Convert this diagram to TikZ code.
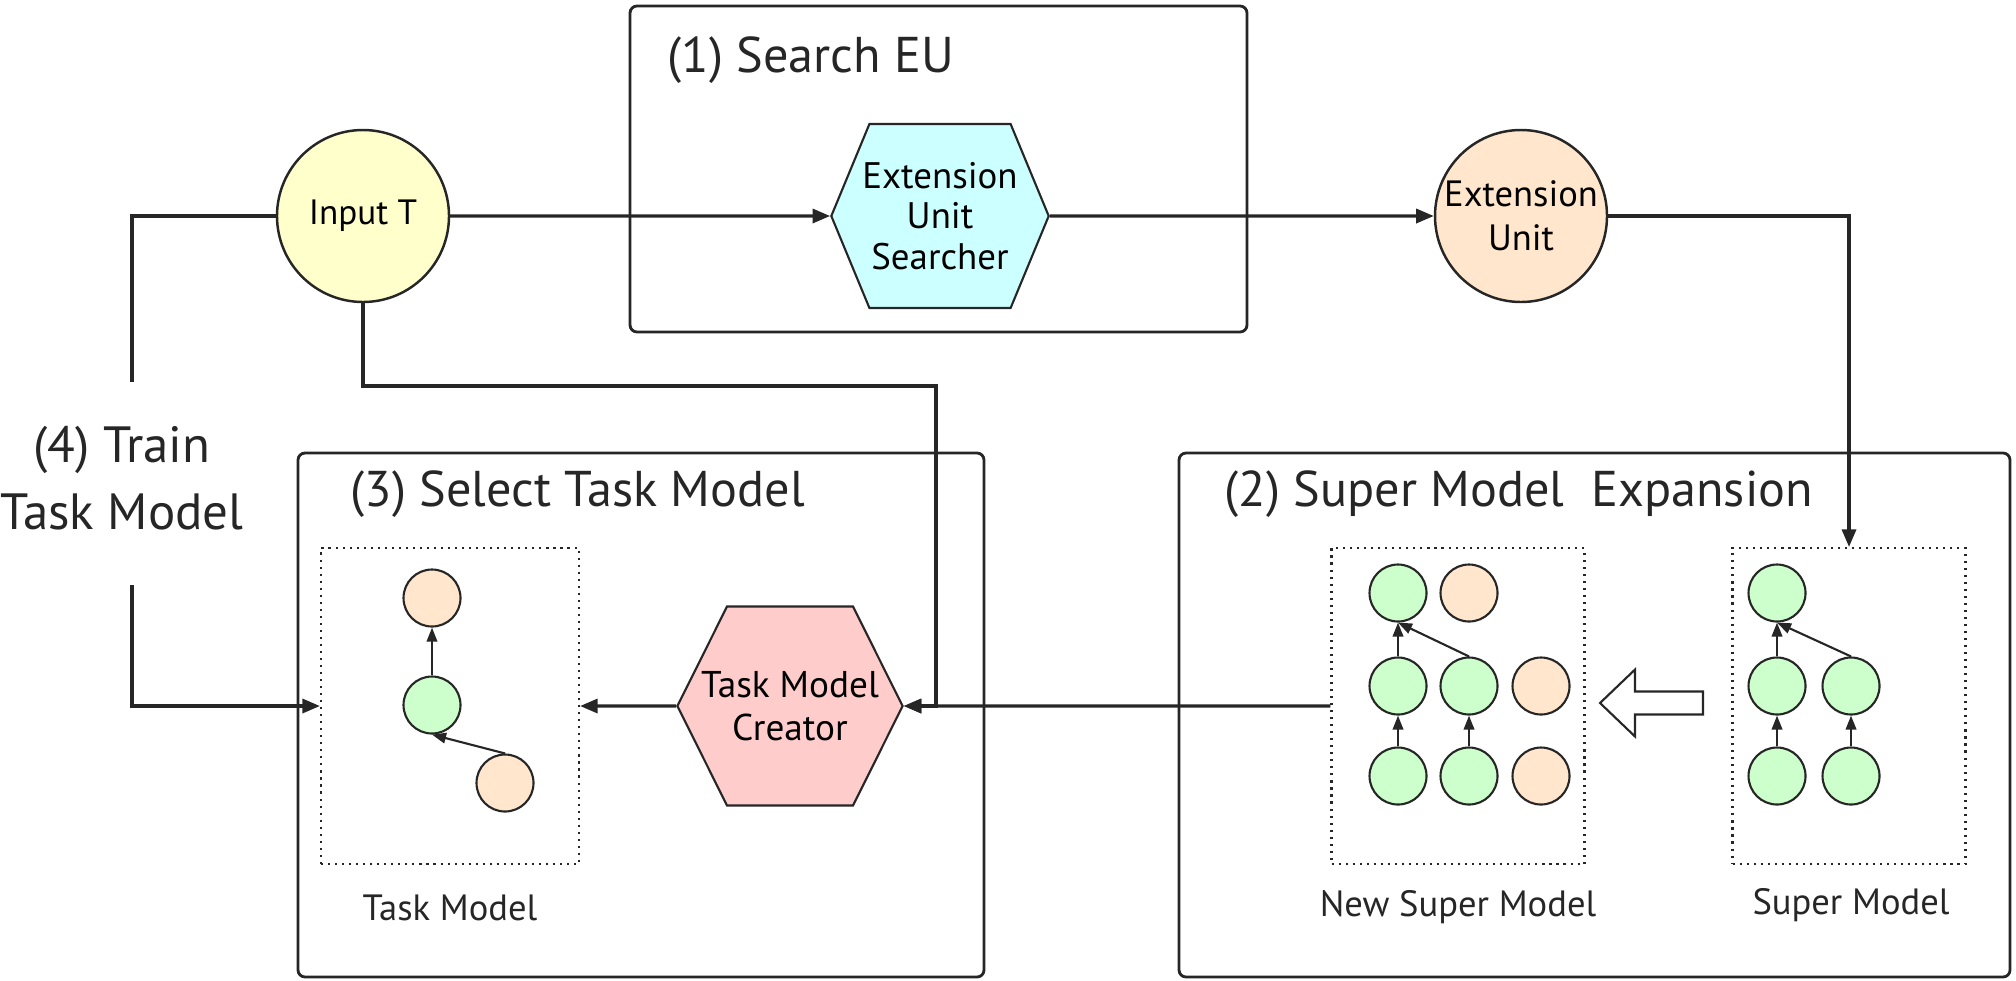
\documentclass[tikz,border=0pt]{standalone}
\usepackage{fontspec}
\setmainfont{PT Sans}
\usetikzlibrary{arrows.meta,shapes.symbols}
\definecolor{jaune}{HTML}{FFFFCC}
\definecolor{cyan}{HTML}{CCFFFF}
\definecolor{peche}{HTML}{FFE6CC}
\definecolor{rose}{HTML}{FFCCCC}
\definecolor{vert}{HTML}{CCFFCC}
\definecolor{trait}{HTML}{262626}

\begin{document}
\begin{tikzpicture}
\tikzset{cadre/.style={draw=trait, line width=0.8pt, rounded corners=2pt},
titre/.style={anchor=west, inner sep=0pt, text=trait, font=\fontsize{14.3}{17}\selectfont},
gros/.style={draw=trait, circle, minimum size=1.72cm, inner sep=0pt, line width=0.7pt, align=center},
hexa/.style={draw=trait, signal, signal to=west and east, inner ysep=0pt, align=center, line width=0.6pt},
pointille/.style={draw=trait, dash pattern=on 0.6pt off 1.4pt, line width=0.6pt, minimum height=3.16cm, inner sep=0pt},
petit/.style={draw=trait, circle, minimum size=0.57cm, inner sep=0pt, line width=0.6pt},
fleche/.style={draw=trait, -{Triangle[length=5pt,width=4pt]}, line width=0.9pt},
fin/.style={draw=trait, -{Triangle[length=4pt,width=3pt]}, line width=0.6pt},
legende/.style={text=trait, font=\fontsize{10.4}{12.5}\selectfont}}
\useasboundingbox (0,0) rectangle (20.16,9.80);

\draw[cadre] (6.30,9.74) rectangle (12.47,6.48);
\draw[cadre] (2.98,5.27) rectangle (9.84,0.03);
\draw[cadre] (11.79,5.27) rectangle (20.10,0.03);
\node[titre] (T1) at (6.67,9.20) {(1) Search EU};
\node[titre] (T3) at (3.50,4.86) {(3) Select Task Model};
\node[titre] (T2) at (12.24,4.86) {(2) Super Model\ \ Expansion};
\node[titre, anchor=center, align=center, font=\fontsize{14.5}{19}\selectfont] (train) at (1.22,5.02) {(4) Train\\Task Model};

\node[gros, fill=jaune, font=\fontsize{10}{12}\selectfont] (inp) at (3.63,7.64) {Input T};
\node[gros, fill=peche, font=\fontsize{10.4}{12.5}\selectfont] (eu) at (15.21,7.64) {Extension\\Unit};
\node[hexa, fill=cyan, signal pointer angle=135, inner xsep=-0.07cm, minimum height=1.84cm, font=\fontsize{10.5}{11.5}\selectfont] (searcher) at (9.40,7.64) {Extension\\Unit\\Searcher};
\node[hexa, fill=rose, signal pointer angle=127, inner xsep=-0.26cm, minimum height=1.99cm, font=\fontsize{10.6}{12.2}\selectfont] (creator) at (7.90,2.74) {Task Model\\Creator};

\node[pointille, minimum width=2.58cm] (TM) at (4.50,2.74) {};
\node[pointille, minimum width=2.53cm] (NSM) at (14.58,2.74) {};
\node[pointille, minimum width=2.33cm] (SM) at (18.49,2.74) {};
\node[legende] (lTM) at (4.50,0.72) {Task Model};
\node[legende] (lNSM) at (14.58,0.73) {New Super Model};
\node[legende] (lSM) at (18.51,0.75) {Super Model};

\node[petit, fill=peche] (t1) at (4.32,3.82) {};
\node[petit, fill=vert] (t2) at (4.32,2.75) {};
\node[petit, fill=peche] (t3) at (5.05,1.97) {};
\draw[fin] (t2) -- (t1);
\draw[fin] (t3.north) -- (t2.south);

\node[petit, fill=vert] (n11) at (13.98,3.87) {};
\node[petit, fill=peche] (n12) at (14.69,3.87) {};
\node[petit, fill=vert] (n21) at (13.98,2.94) {};
\node[petit, fill=vert] (n22) at (14.69,2.94) {};
\node[petit, fill=peche] (n23) at (15.41,2.94) {};
\node[petit, fill=vert] (n31) at (13.98,2.04) {};
\node[petit, fill=vert] (n32) at (14.69,2.04) {};
\node[petit, fill=peche] (n33) at (15.41,2.04) {};
\draw[fin] (n21) -- (n11);
\draw[fin] (n22.north) -- (n11.south);
\draw[fin] (n31) -- (n21);
\draw[fin] (n32) -- (n22);

\node[petit, fill=vert] (s11) at (17.77,3.87) {};
\node[petit, fill=vert] (s21) at (17.77,2.94) {};
\node[petit, fill=vert] (s22) at (18.51,2.94) {};
\node[petit, fill=vert] (s31) at (17.77,2.04) {};
\node[petit, fill=vert] (s32) at (18.51,2.04) {};
\draw[fin] (s21) -- (s11);
\draw[fin] (s22.north) -- (s11.south);
\draw[fin] (s31) -- (s21);
\draw[fin] (s32) -- (s22);

\draw[draw=trait, line width=0.6pt, fill=white] (17.03,2.885) -- (16.35,2.885) -- (16.35,3.105) -- (16.00,2.77) -- (16.35,2.435) -- (16.35,2.655) -- (17.03,2.655) -- cycle;

\coordinate (haut) at (1.32,5.98);
\coordinate (bas) at (1.32,3.95);
\coordinate (coude) at (9.36,5.94);
\draw[fleche] (inp) -- (searcher);
\draw[fleche] (searcher) -- (eu);
\draw[fleche] (eu) -| (SM);
\draw[draw=trait, line width=0.9pt] (inp) -| (haut);
\draw[fleche] (bas) |- (TM);
\draw[fleche] (inp) |- (coude) |- (creator);
\draw[fleche] (NSM) -- (creator);
\draw[fleche] (creator) -- (TM);
\end{tikzpicture}
\end{document}
